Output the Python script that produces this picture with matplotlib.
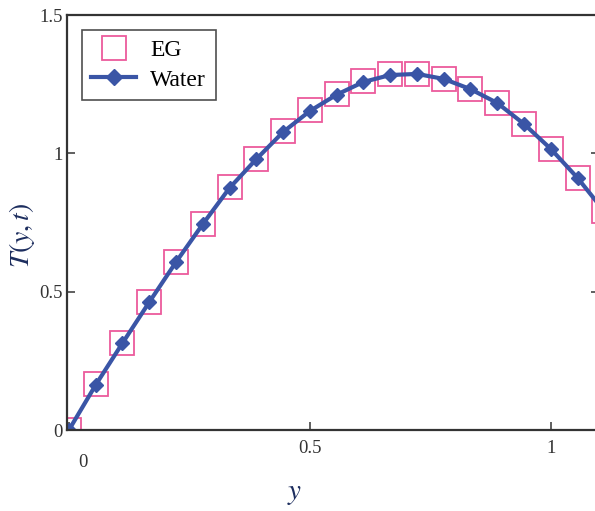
import matplotlib
matplotlib.use('Agg')
import matplotlib.pyplot as plt
import matplotlib.transforms as mtransforms
import numpy as np

# y positions (step 1/18)
y_vals = [i / 18 for i in range(21)]

T_water = [0.0, 0.163, 0.314, 0.462, 0.607, 0.744, 0.875, 0.979, 1.077, 1.153,
           1.212, 1.258, 1.283, 1.287, 1.269, 1.232, 1.182, 1.106, 1.016, 0.911, 0.79]
T_eg = [0.0, 0.165, 0.316, 0.464, 0.609, 0.746, 0.877, 0.981, 1.079, 1.155,
        1.214, 1.26, 1.285, 1.288, 1.27, 1.233, 1.183, 1.107, 1.017, 0.912, 0.79]

x_ticks = [0, 0.5, 1]
y_ticks = [0, 0.5, 1, 1.5]

PINK = '#ec5a9c'
BLUE = '#3a55a6'
NAVY = '#1c2d5e'

plt.rcParams['font.family'] = ['Liberation Serif', 'DejaVu Serif']
plt.rcParams['mathtext.fontset'] = 'stix'

fig = plt.figure(figsize=(5.95, 5.11), dpi=100)
ax = fig.add_axes([67 / 595, 81 / 511, 532 / 595, 415 / 511])

ax.plot(y_vals, T_eg, linestyle='none', marker='s', markersize=17,
        markerfacecolor='none', markeredgecolor=PINK, markeredgewidth=1.3,
        label='EG')
ax.plot(y_vals, T_water, color=BLUE, linewidth=3, marker='D', markersize=7,
        markerfacecolor=BLUE, markeredgecolor=BLUE, label='Water')

ax.set_xlim(-0.004, 1.1)
ax.set_ylim(0, 1.5)
ax.set_xticks(x_ticks)
ax.set_xticklabels(['0', '0.5', '1'])
ax.set_yticks(y_ticks)
ax.set_yticklabels(['0', '0.5', '1', '1.5'])

ax.tick_params(axis='both', direction='in', length=6, width=1.2, colors='#444444',
               labelsize=13.5, labelcolor='#333333', right=True, top=False)
ax.tick_params(axis='x', pad=7)
ax.tick_params(axis='y', pad=3)

# the x "0" label sits a bit right and lower in the original
lab0 = ax.get_xticklabels()[0]
lab0.set_transform(lab0.get_transform() +
                   mtransforms.ScaledTranslation(14 / 100, -14 / 100, fig.dpi_scale_trans))

for s in ax.spines.values():
    s.set_color('#333333')
    s.set_linewidth(1.6)

ax.set_ylabel(r'$T(y,t)$', fontsize=20, color=NAVY)
ax.yaxis.set_label_coords(-(67 - 37) / 532, (430 - 235) / 415)
ax.set_xlabel(r'$y$', fontsize=21, color=NAVY)
ax.xaxis.set_label_coords((295 - 67) / 532, -(481 - 430) / 415)

leg = ax.legend(loc='upper left', bbox_to_anchor=(0.028, 0.964), fontsize=17,
                frameon=True, fancybox=False, edgecolor='#222222',
                handlelength=1.9, borderpad=0.4, labelspacing=0.35,
                handletextpad=0.6, borderaxespad=0.0)
leg.get_frame().set_linewidth(1.2)
leg.legend_handles[0].set_markersize(17)
leg.legend_handles[1].set_markersize(8)

fig.savefig('out.png', dpi=100)
